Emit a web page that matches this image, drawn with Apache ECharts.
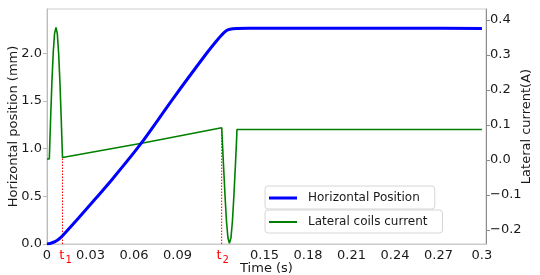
<!DOCTYPE html>
<html><head><meta charset="utf-8">
<script src="https://cdn.jsdelivr.net/npm/echarts@6/dist/echarts.min.js"></script>
<style>html,body{margin:0;padding:0;background:#fff}#c{width:540px;height:275px}</style>
</head><body><div id="c"></div>
<script>
// Horizontal position (mm) over time (s)
const posTime = [0, 0.0021, 0.0055, 0.0083, 0.0112, 0.0216, 0.0331, 0.0446, 0.0641, 0.0871, 0.1101, 0.1166, 0.1205, 0.1234, 0.1262, 0.131, 0.14, 0.2, 0.25, 0.3];
const posVal  = [0, 0.005, 0.024, 0.052, 0.094, 0.269, 0.469, 0.671, 1.038, 1.527, 1.999, 2.123, 2.191, 2.233, 2.251, 2.259, 2.261, 2.262, 2.262, 2.259];
// Lateral coils current (A) over time (s)
const curTime = [0, 0.0016, 0.0025, 0.0034, 0.0043, 0.0052, 0.0062, 0.0071, 0.0080, 0.0089, 0.0098, 0.0105, 0.0107, 0.0662, 0.1205, 0.1207, 0.1217, 0.1228, 0.1238, 0.1248, 0.1258, 0.1269, 0.1279, 0.1289, 0.1300, 0.1309, 0.1310, 0.3];
const curVal  = [0.003, 0.003, 0.119, 0.224, 0.307, 0.361, 0.379, 0.361, 0.307, 0.224, 0.119, 0.03, 0.007, 0.0486, 0.0923, 0.0923, -0.011, -0.103, -0.175, -0.222, -0.238, -0.222, -0.175, -0.103, -0.011, 0.07, 0.087, 0.087];
// Marked instants t1, t2
const markTimes = [0.0107, 0.1205];
const markCurrent = [0.007, 0.0923];
const markSubs = ['1', '2'];
const markLabelPos = [0.0128, 0.1212];
// Tick labels
const xTicks = [0, 0.03, 0.06, 0.09, 0.15, 0.18, 0.21, 0.24, 0.27, 0.3];
const xTickText = ['0', '0.03', '0.06', '0.09', '0.15', '0.18', '0.21', '0.24', '0.27', '0.3'];
const leftTicks = [0, 0.5, 1.0, 1.5, 2.0];
const rightTicks = [-0.2, -0.1, 0, 0.1, 0.2, 0.3, 0.4];
const seriesNames = ['Horizontal Position', 'Lateral coils current'];
const axisNames = ['Time (s)', 'Horizontal position (mm)', 'Lateral current(A)'];

const rightMin = -0.24, rightMax = 0.4314;
const font = 'DejaVu Sans';
const ink = '#1a1a1a';

const chart = echarts.init(document.getElementById('c'), null, {renderer: 'canvas'});
const zip = (a, b) => a.map((x, i) => [x, b[i]]);
const xLabelValues = xTicks.concat(markLabelPos).sort((a, b) => a - b);
const xFormatter = v => {
  for (let i = 0; i < markLabelPos.length; i++) if (Math.abs(v - markLabelPos[i]) < 1e-7) return '{r|t}{s|' + markSubs[i] + '}';
  const k = xTicks.findIndex(t => Math.abs(t - v) < 1e-7);
  return k >= 0 ? xTickText[k] : '';
};
const markSeries = markTimes.map((t, i) => ({
  type: 'line', yAxisIndex: 1, symbol: 'none', silent: true, z: 1,
  data: [[t, rightMin], [t, markCurrent[i]]],
  lineStyle: {color: '#ff0000', width: 1, type: [1.5, 1.5]}
}));
const legendBase = {
  left: 265, padding: [5, 15, 4, 4], itemWidth: 28,
  backgroundColor: '#fff', borderColor: '#d6d6d6', borderWidth: 1, borderRadius: 3,
  textStyle: {fontFamily: font, fontSize: 12, color: ink, padding: [0, 0, 0, 6], lineHeight: 14}
};
const nameStyle = {fontFamily: font, fontSize: 13, color: ink};
chart.setOption({
  animation: false,
  textStyle: {fontFamily: font},
  grid: {left: 47, right: 54, top: 9, bottom: 31, outerBoundsMode: 'none', containLabel: false,
         show: true, borderColor: '#cccccc', borderWidth: 1},
  legend: [
    Object.assign({}, legendBase, {top: 186, itemHeight: 3,
      data: [{name: seriesNames[0], icon: 'rect', itemStyle: {color: '#0000ff'}}]}),
    Object.assign({}, legendBase, {top: 210, itemHeight: 2,
      data: [{name: seriesNames[1], icon: 'rect', itemStyle: {color: '#008000'}}]})
  ],
  xAxis: {
    type: 'value', min: 0, max: 0.3028,
    name: axisNames[0], nameLocation: 'middle', nameGap: 18, nameMoveOverlap: false,
    nameTextStyle: nameStyle,
    splitLine: {show: false},
    axisLine: {show: true, lineStyle: {color: '#cccccc', width: 1}},
    axisTick: {show: false},
    axisLabel: {
      margin: 5, fontFamily: font, fontSize: 13, color: ink,
      customValues: xLabelValues, formatter: xFormatter,
      rich: {
        r: {color: '#ff0000', fontSize: 13, fontFamily: font, verticalAlign: 'top'},
        s: {color: '#ff0000', fontSize: 10, fontFamily: font, verticalAlign: 'top', padding: [6, 0, 0, 1]}
      }
    }
  },
  yAxis: [
    {type: 'value', min: 0, max: 2.463, position: 'left',
     name: axisNames[1], nameLocation: 'middle', nameGap: 27, nameRotate: 90, nameMoveOverlap: false,
     nameTextStyle: nameStyle,
     splitLine: {show: false},
     axisLine: {show: true, lineStyle: {color: '#bbbbbb', width: 1}},
     axisTick: {show: true, length: 4, lineStyle: {color: '#bbbbbb'}, customValues: leftTicks},
     axisLabel: {margin: 5, fontFamily: font, fontSize: 13, color: ink, customValues: leftTicks,
       formatter: v => v.toFixed(1)}},
    {type: 'value', min: rightMin, max: rightMax, position: 'right',
     name: axisNames[2], nameLocation: 'middle', nameGap: 34, nameRotate: 90, nameMoveOverlap: false,
     nameTextStyle: nameStyle,
     splitLine: {show: false},
     axisLine: {show: true, lineStyle: {color: '#8c8c8c', width: 1}},
     axisTick: {show: true, length: 4, lineStyle: {color: '#8c8c8c'}, customValues: rightTicks},
     axisLabel: {margin: 4, fontFamily: font, fontSize: 13, color: ink, customValues: rightTicks,
       formatter: v => (v < -1e-9 ? '\u2212' : '') + Math.abs(v).toFixed(1)}}
  ],
  series: [
    {name: seriesNames[0], type: 'line', yAxisIndex: 0, symbol: 'none', z: 3,
     data: zip(posTime, posVal), smooth: 0.3, lineStyle: {color: '#0000ff', width: 3}, itemStyle: {color: '#0000ff'}},
    {name: seriesNames[1], type: 'line', yAxisIndex: 1, symbol: 'none', z: 2,
     data: zip(curTime, curVal), lineStyle: {color: '#008000', width: 1.6}, itemStyle: {color: '#008000'}},
    ...markSeries
  ]
});
</script></body></html>
